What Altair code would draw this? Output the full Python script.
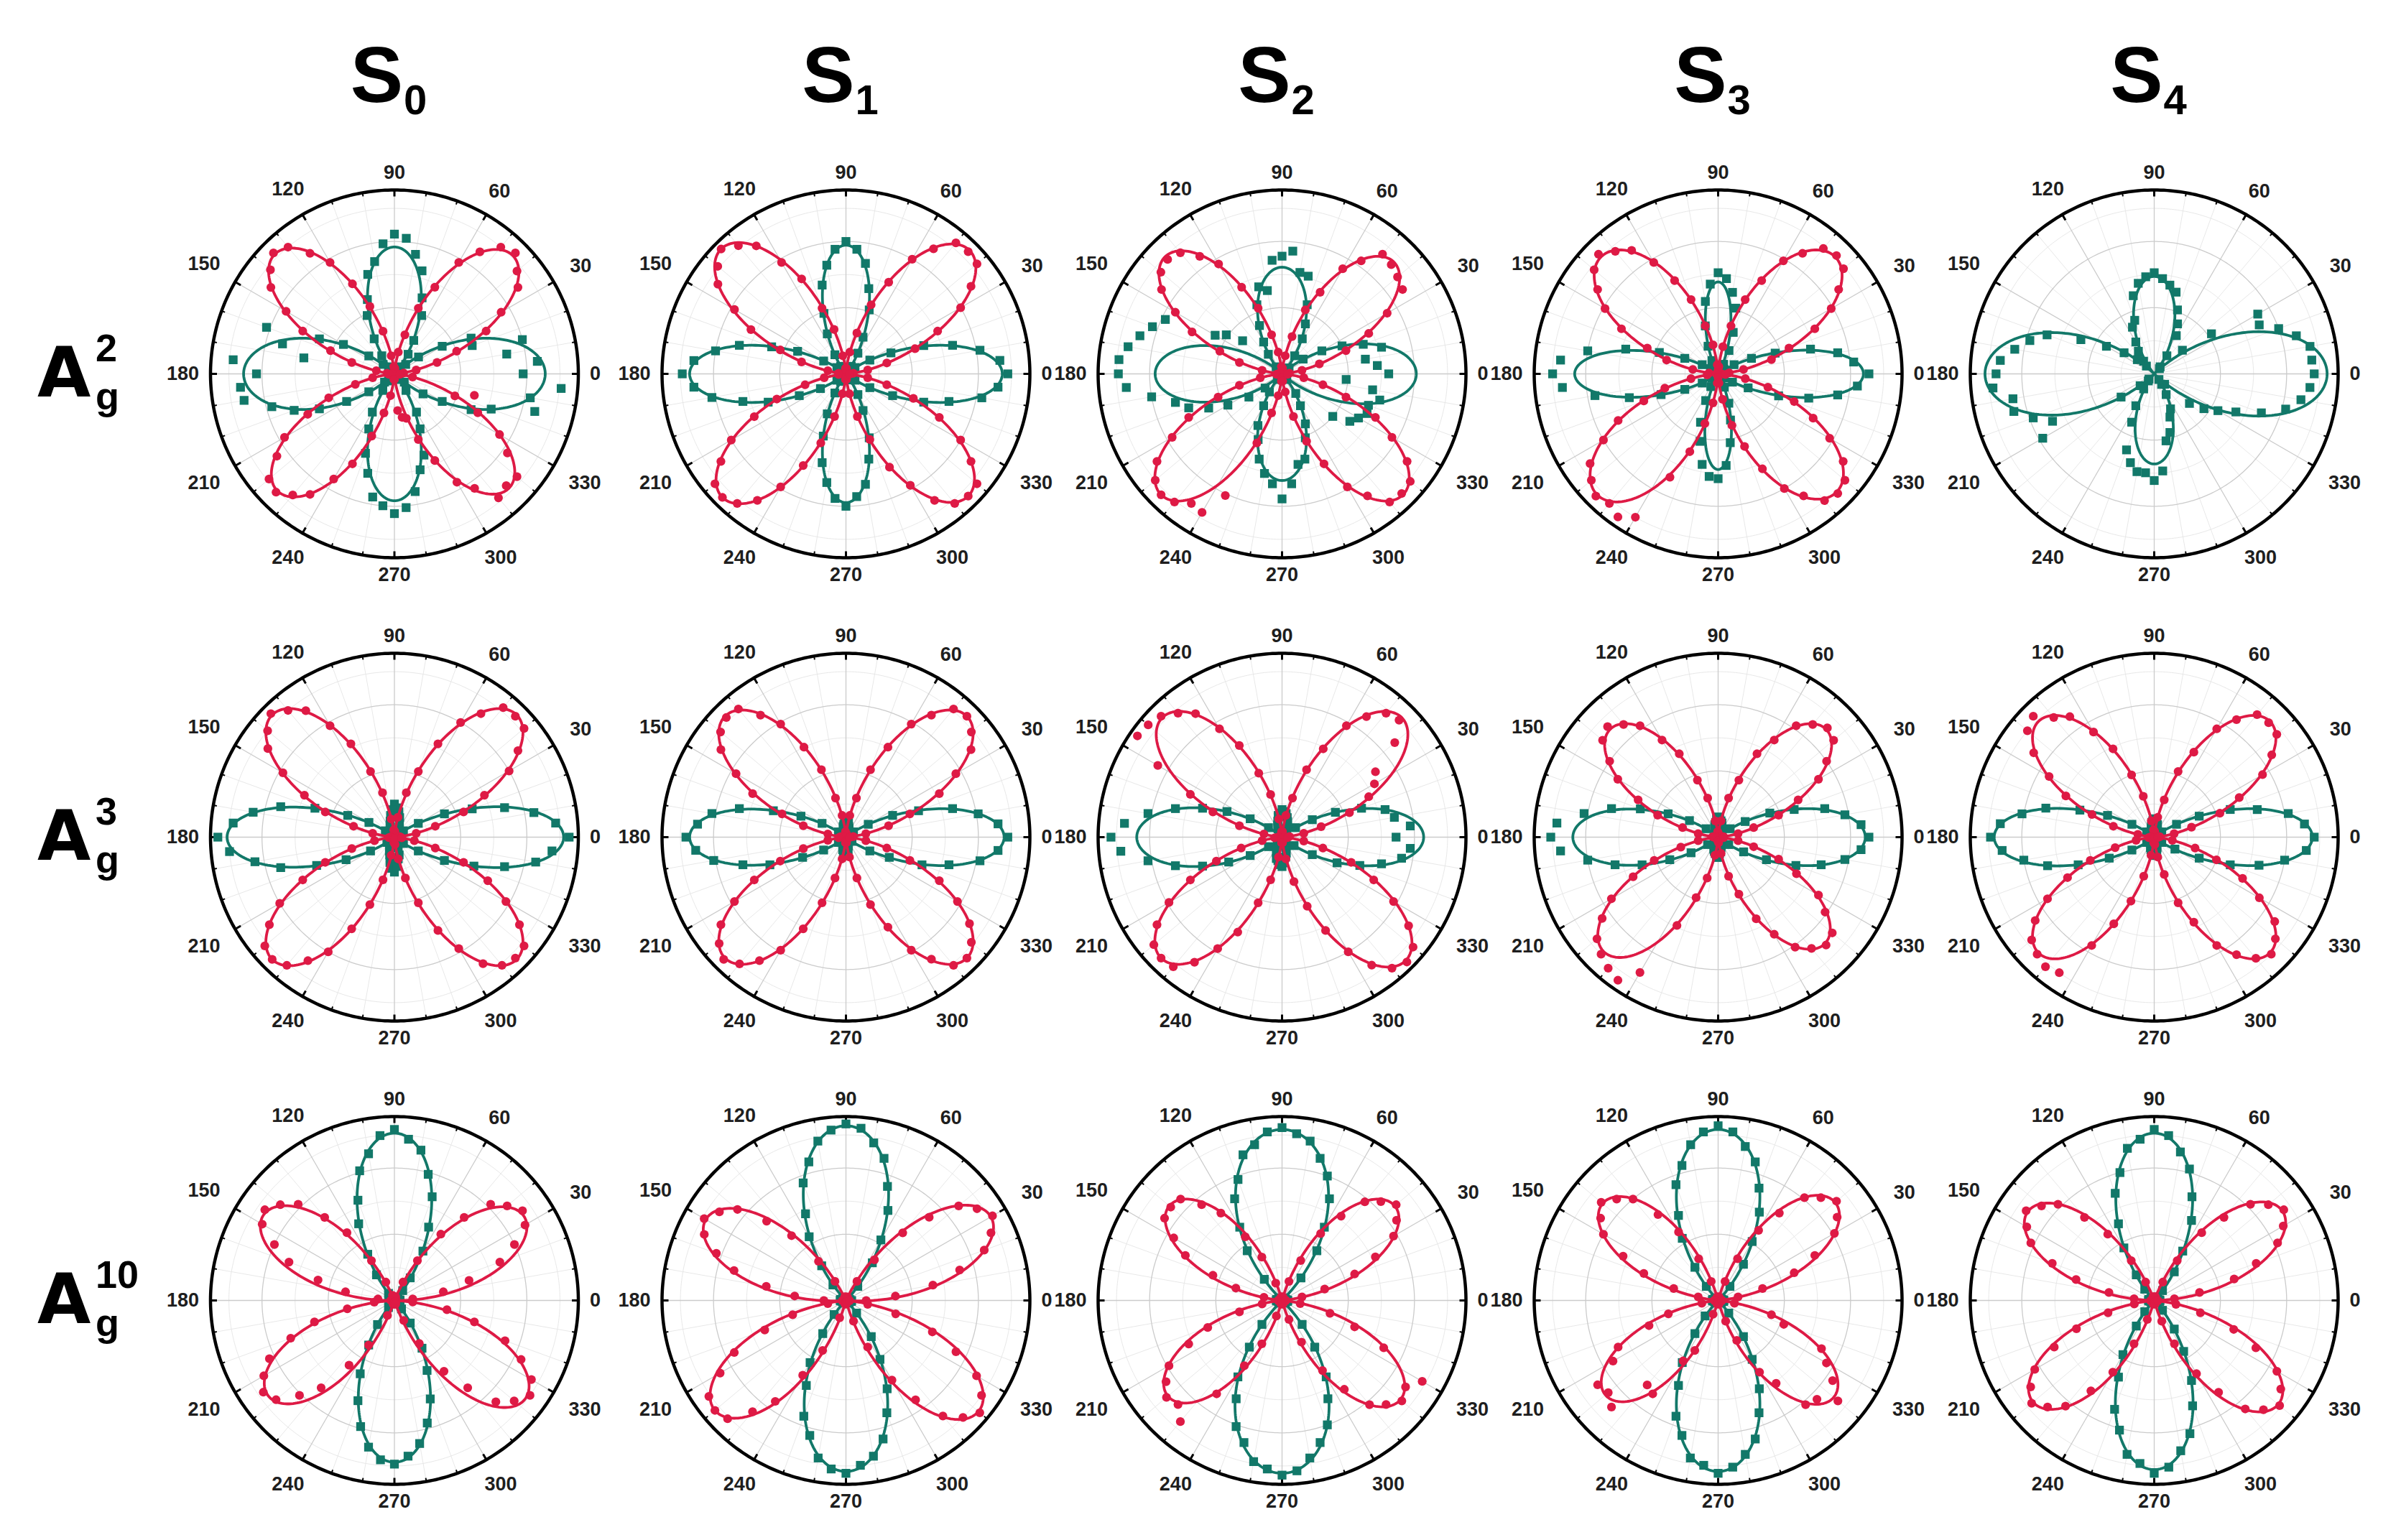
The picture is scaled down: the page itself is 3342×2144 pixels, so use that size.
import numpy as np
import pandas as pd
import altair as alt

# ---------------- labels ----------------
COL_SUBS = ["0", "1", "2", "3", "4"]          # S_0 ... S_4
ROW_SUPS = ["2", "3", "10"]                   # A_g^2, A_g^3, A_g^10
ANGLE_LABELS = [0, 30, 60, 90, 120, 150, 180, 210, 240, 270, 300, 330]
STEP = 5  # measured points every 5 degrees, 0..355

# ---------------- measured points (radius, fraction of outer circle) ----------------
# Row A_g^2
R_A2_S0 = [0.02, 0.05, 0.12, 0.24, 0.36, 0.55, 0.67, 0.82, 0.87, 0.93, 0.90, 0.81, 0.70, 0.52, 0.38, 0.22, 0.12, 0.03,
           0.02, 0.04, 0.10, 0.24, 0.39, 0.54, 0.70, 0.80, 0.90, 0.93, 0.88, 0.82, 0.68, 0.55, 0.37, 0.24, 0.10, 0.04,
           0.01, 0.03, 0.12, 0.22, 0.38, 0.52, 0.69, 0.78, 0.89, 0.91, 0.86, 0.80, 0.66, 0.54, 0.36, 0.22, 0.12, 0.03,
           0.03, 0.20, 0.24, 0.25, 0.38, 0.52, 0.68, 0.76, 0.88, 0.86, 0.87, 0.75, 0.66, 0.50, 0.35, 0.45, 0.10, 0.03]
G_A2_S0 = [0.70, 0.78, 0.62, 0.72, 0.45, 0.46, 0.30, 0.16, 0.08, 0.03,
           0.05, 0.13, 0.21, 0.35, 0.44, 0.58, 0.66, 0.74, 0.76,
           0.71, 0.62, 0.56, 0.43, 0.35, 0.22, 0.12, 0.05, 0.02,
           0.08, 0.17, 0.32, 0.45, 0.74, 0.63, 0.50, 0.88, 0.75,
           0.84, 0.83, 0.69, 0.58, 0.45, 0.30, 0.17, 0.07, 0.02,
           0.05, 0.11, 0.24, 0.33, 0.46, 0.56, 0.68, 0.72, 0.76,
           0.73, 0.65, 0.54, 0.47, 0.33, 0.24, 0.11, 0.04, 0.02,
           0.07, 0.19, 0.30, 0.46, 0.56, 0.79, 0.75, 0.91]
R_A2_S1 = [0.01, 0.04, 0.12, 0.23, 0.40, 0.55, 0.72, 0.83, 0.93, 0.94, 0.93, 0.83, 0.72, 0.55, 0.40, 0.23, 0.12, 0.03,
           0.02, 0.03, 0.10, 0.25, 0.38, 0.57, 0.70, 0.85, 0.91, 0.96, 0.91, 0.85, 0.70, 0.57, 0.38, 0.25, 0.10, 0.04,
           0.01, 0.04, 0.12, 0.23, 0.40, 0.55, 0.72, 0.83, 0.93, 0.95, 0.92, 0.84, 0.71, 0.55, 0.40, 0.24, 0.11, 0.03,
           0.02, 0.03, 0.11, 0.24, 0.38, 0.56, 0.70, 0.84, 0.92, 0.94, 0.93, 0.83, 0.72, 0.56, 0.39, 0.23, 0.12, 0.02]
G_A2_S1 = [0.88, 0.84, 0.74, 0.60, 0.45, 0.27, 0.15, 0.06, 0.02, 0.01,
           0.01, 0.05, 0.13, 0.22, 0.37, 0.48, 0.61, 0.68, 0.72,
           0.68, 0.60, 0.50, 0.35, 0.24, 0.12, 0.05, 0.01, 0.01,
           0.02, 0.06, 0.14, 0.29, 0.43, 0.60, 0.72, 0.83, 0.89,
           0.83, 0.74, 0.58, 0.45, 0.28, 0.16, 0.06, 0.01, 0.01,
           0.01, 0.05, 0.12, 0.24, 0.36, 0.50, 0.60, 0.68, 0.72,
           0.67, 0.61, 0.48, 0.37, 0.22, 0.13, 0.04, 0.01, 0.02,
           0.01, 0.06, 0.15, 0.28, 0.45, 0.58, 0.75, 0.83]
R_A2_S2 = [0.02, 0.04, 0.11, 0.21, 0.37, 0.52, 0.66, 0.80, 0.82, 0.84, 0.85, 0.75, 0.66, 0.49, 0.37, 0.21, 0.10, 0.03,
           0.02, 0.04, 0.12, 0.22, 0.38, 0.52, 0.69, 0.78, 0.86, 0.88, 0.86, 0.80, 0.67, 0.54, 0.36, 0.24, 0.11, 0.02,
           0.01, 0.03, 0.12, 0.24, 0.37, 0.56, 0.69, 0.83, 0.90, 0.93, 0.91, 0.86, 0.87, 0.73, 0.40, 0.22, 0.12, 0.04,
           0.02, 0.04, 0.10, 0.24, 0.39, 0.54, 0.71, 0.81, 0.91, 0.92, 0.91, 0.83, 0.69, 0.56, 0.37, 0.23, 0.12, 0.03]
G_A2_S2 = [0.58, 0.52, 0.46, 0.56, 0.47, 0.36, 0.25, 0.14, 0.05, 0.02,
           0.04, 0.12, 0.22, 0.30, 0.40, 0.55, 0.56, 0.67, 0.64,
           0.62, 0.46, 0.49, 0.40, 0.29, 0.20, 0.13, 0.05, 0.03,
           0.28, 0.37, 0.42, 0.70, 0.75, 0.80, 0.85, 0.89, 0.89,
           0.85, 0.72, 0.60, 0.54, 0.44, 0.34, 0.22, 0.12, 0.03,
           0.04, 0.12, 0.20, 0.31, 0.38, 0.48, 0.55, 0.60, 0.68,
           0.60, 0.50, 0.48, 0.37, 0.30, 0.20, 0.13, 0.04, 0.03,
           0.36, 0.45, 0.48, 0.51, 0.50, 0.55, 0.50, 0.35]
R_A2_S3 = [0.02, 0.06, 0.14, 0.30, 0.41, 0.58, 0.71, 0.80, 0.89, 0.91, 0.89, 0.80, 0.71, 0.56, 0.43, 0.27, 0.15, 0.04,
           0.02, 0.05, 0.16, 0.27, 0.43, 0.56, 0.70, 0.82, 0.87, 0.92, 0.88, 0.80, 0.71, 0.58, 0.41, 0.29, 0.14, 0.05,
           0.01, 0.06, 0.15, 0.30, 0.43, 0.60, 0.72, 0.85, 0.90, 0.94, 0.92, 0.95, 0.90, 0.62, 0.45, 0.28, 0.16, 0.05,
           0.02, 0.05, 0.14, 0.29, 0.42, 0.57, 0.72, 0.81, 0.90, 0.92, 0.90, 0.83, 0.70, 0.57, 0.44, 0.28, 0.15, 0.04]
G_A2_S3 = [0.82, 0.74, 0.66, 0.52, 0.33, 0.20, 0.10, 0.04, 0.02, 0.02,
           0.02, 0.03, 0.06, 0.14, 0.24, 0.37, 0.45, 0.52, 0.55,
           0.49, 0.40, 0.27, 0.16, 0.08, 0.03, 0.02, 0.02, 0.03,
           0.03, 0.05, 0.10, 0.20, 0.34, 0.52, 0.72, 0.86, 0.90,
           0.85, 0.68, 0.50, 0.33, 0.20, 0.10, 0.04, 0.02, 0.02,
           0.02, 0.03, 0.08, 0.16, 0.28, 0.38, 0.50, 0.56, 0.57,
           0.50, 0.38, 0.26, 0.17, 0.08, 0.03, 0.02, 0.02, 0.02,
           0.02, 0.04, 0.09, 0.18, 0.35, 0.51, 0.66, 0.76]
R_A2_S4 = []
G_A2_S4 = [0.87, 0.86, 0.86, 0.80, 0.72, 0.63, 0.65, 0.38, 0.20, 0.04,
           0.05, 0.12, 0.24, 0.30, 0.37, 0.46, 0.49, 0.52, 0.55,
           0.53, 0.50, 0.44, 0.31, 0.28, 0.20, 0.15, 0.09, 0.06,
           0.12, 0.20, 0.30, 0.44, 0.62, 0.70, 0.77, 0.84, 0.86,
           0.88, 0.78, 0.79, 0.70, 0.61, 0.70, 0.22, 0.10, 0.04,
           0.05, 0.10, 0.20, 0.29, 0.44, 0.50, 0.54, 0.54, 0.58,
           0.53, 0.37, 0.33, 0.25, 0.21, 0.13, 0.07, 0.04, 0.08,
           0.25, 0.33, 0.40, 0.49, 0.62, 0.74, 0.81, 0.85]

# Row A_g^3
R_A3_S0 = [0.02, 0.03, 0.12, 0.23, 0.40, 0.54, 0.72, 0.82, 0.92, 0.93, 0.92, 0.82, 0.72, 0.56, 0.38, 0.25, 0.11, 0.03,
           0.01, 0.04, 0.10, 0.25, 0.38, 0.56, 0.70, 0.84, 0.90, 0.95, 0.90, 0.84, 0.70, 0.54, 0.40, 0.23, 0.12, 0.02,
           0.02, 0.03, 0.11, 0.24, 0.40, 0.55, 0.72, 0.83, 0.92, 0.94, 0.91, 0.82, 0.72, 0.55, 0.39, 0.24, 0.10, 0.03,
           0.01, 0.04, 0.12, 0.23, 0.38, 0.56, 0.70, 0.84, 0.91, 0.93, 0.92, 0.83, 0.70, 0.56, 0.40, 0.23, 0.11, 0.04]
G_A3_S0 = [0.95, 0.88, 0.77, 0.62, 0.45, 0.30, 0.15, 0.06, 0.01, 0.01,
           0.01, 0.02, 0.03, 0.06, 0.08, 0.11, 0.14, 0.16, 0.18,
           0.15, 0.12, 0.09, 0.07, 0.04, 0.02, 0.01, 0.01, 0.01,
           0.01, 0.06, 0.16, 0.28, 0.46, 0.64, 0.78, 0.88, 0.96,
           0.90, 0.77, 0.64, 0.45, 0.29, 0.15, 0.05, 0.01, 0.01,
           0.01, 0.02, 0.03, 0.05, 0.08, 0.10, 0.14, 0.17, 0.19,
           0.16, 0.12, 0.10, 0.06, 0.04, 0.02, 0.01, 0.01, 0.01,
           0.01, 0.06, 0.15, 0.30, 0.46, 0.62, 0.78, 0.86]
R_A3_S1 = [0.01, 0.04, 0.11, 0.24, 0.37, 0.56, 0.69, 0.83, 0.89, 0.93, 0.91, 0.81, 0.71, 0.54, 0.39, 0.22, 0.12, 0.02,
           0.02, 0.03, 0.12, 0.22, 0.39, 0.54, 0.71, 0.81, 0.91, 0.92, 0.89, 0.83, 0.69, 0.56, 0.37, 0.24, 0.10, 0.03,
           0.01, 0.04, 0.10, 0.24, 0.38, 0.55, 0.70, 0.83, 0.90, 0.94, 0.90, 0.82, 0.71, 0.55, 0.38, 0.23, 0.12, 0.03,
           0.02, 0.03, 0.11, 0.23, 0.39, 0.54, 0.71, 0.81, 0.91, 0.93, 0.89, 0.82, 0.70, 0.56, 0.37, 0.23, 0.11, 0.02]
G_A3_S1 = [0.88, 0.83, 0.73, 0.60, 0.42, 0.28, 0.14, 0.05, 0.01, 0.01,
           0.01, 0.01, 0.02, 0.03, 0.05, 0.06, 0.08, 0.09, 0.10,
           0.09, 0.07, 0.06, 0.04, 0.03, 0.02, 0.01, 0.01, 0.01,
           0.01, 0.05, 0.15, 0.27, 0.42, 0.60, 0.74, 0.81, 0.87,
           0.82, 0.73, 0.58, 0.44, 0.26, 0.14, 0.05, 0.01, 0.01,
           0.01, 0.02, 0.02, 0.03, 0.05, 0.07, 0.08, 0.10, 0.10,
           0.08, 0.07, 0.05, 0.04, 0.02, 0.02, 0.01, 0.01, 0.01,
           0.01, 0.04, 0.15, 0.26, 0.44, 0.58, 0.74, 0.83]
R_A3_S2 = [0.02, 0.04, 0.12, 0.22, 0.39, 0.52, 0.58, 0.62, 0.80, 0.90, 0.88, 0.80, 0.70, 0.53, 0.39, 0.22, 0.12, 0.03,
           0.01, 0.03, 0.10, 0.24, 0.37, 0.55, 0.68, 0.82, 0.88, 0.93, 0.95, 0.96, 0.78, 0.55, 0.40, 0.24, 0.10, 0.02,
           0.02, 0.04, 0.11, 0.23, 0.38, 0.55, 0.71, 0.83, 0.91, 0.93, 0.92, 0.83, 0.70, 0.57, 0.38, 0.24, 0.11, 0.03,
           0.01, 0.03, 0.12, 0.25, 0.40, 0.56, 0.72, 0.85, 0.93, 0.96, 0.93, 0.84, 0.70, 0.55, 0.40, 0.23, 0.12, 0.03]
G_A3_S2 = [0.62, 0.70, 0.62, 0.58, 0.46, 0.32, 0.19, 0.09, 0.02, 0.01,
           0.02, 0.03, 0.05, 0.07, 0.09, 0.11, 0.13, 0.14, 0.15,
           0.13, 0.12, 0.09, 0.07, 0.05, 0.03, 0.02, 0.01, 0.01,
           0.02, 0.09, 0.20, 0.33, 0.46, 0.60, 0.74, 0.86, 0.93,
           0.88, 0.74, 0.60, 0.46, 0.32, 0.20, 0.09, 0.02, 0.01,
           0.01, 0.03, 0.05, 0.07, 0.09, 0.12, 0.13, 0.15, 0.16,
           0.14, 0.11, 0.09, 0.06, 0.05, 0.03, 0.02, 0.01, 0.01,
           0.02, 0.08, 0.19, 0.33, 0.45, 0.56, 0.66, 0.70]
R_A3_S3 = [0.01, 0.03, 0.11, 0.20, 0.35, 0.48, 0.63, 0.72, 0.82, 0.84, 0.80, 0.74, 0.61, 0.50, 0.33, 0.22, 0.09, 0.02,
           0.02, 0.03, 0.09, 0.22, 0.33, 0.50, 0.61, 0.74, 0.80, 0.85, 0.82, 0.72, 0.63, 0.48, 0.35, 0.20, 0.11, 0.03,
           0.01, 0.02, 0.11, 0.21, 0.37, 0.51, 0.67, 0.77, 0.86, 0.90, 0.93, 0.95, 0.85, 0.53, 0.35, 0.23, 0.10, 0.02,
           0.02, 0.03, 0.09, 0.22, 0.33, 0.49, 0.61, 0.73, 0.79, 0.83, 0.81, 0.71, 0.63, 0.47, 0.35, 0.20, 0.11, 0.03]
G_A3_S3 = [0.82, 0.78, 0.70, 0.60, 0.44, 0.31, 0.17, 0.08, 0.02, 0.01,
           0.01, 0.02, 0.03, 0.05, 0.06, 0.08, 0.09, 0.10, 0.11,
           0.10, 0.08, 0.07, 0.05, 0.03, 0.02, 0.02, 0.01, 0.01,
           0.02, 0.08, 0.18, 0.30, 0.45, 0.60, 0.74, 0.88, 0.91,
           0.86, 0.72, 0.58, 0.44, 0.29, 0.17, 0.07, 0.02, 0.01,
           0.01, 0.02, 0.03, 0.05, 0.07, 0.08, 0.09, 0.11, 0.11,
           0.09, 0.08, 0.06, 0.05, 0.03, 0.02, 0.01, 0.01, 0.01,
           0.02, 0.07, 0.16, 0.29, 0.45, 0.58, 0.70, 0.78]
R_A3_S4 = [0.02, 0.03, 0.11, 0.21, 0.38, 0.51, 0.68, 0.78, 0.87, 0.88, 0.87, 0.78, 0.68, 0.51, 0.38, 0.21, 0.11, 0.03,
           0.01, 0.04, 0.09, 0.23, 0.36, 0.53, 0.66, 0.80, 0.85, 0.93, 0.90, 0.80, 0.66, 0.53, 0.36, 0.23, 0.09, 0.02,
           0.02, 0.03, 0.10, 0.22, 0.37, 0.52, 0.67, 0.79, 0.87, 0.90, 0.92, 0.90, 0.68, 0.52, 0.37, 0.22, 0.10, 0.03,
           0.01, 0.04, 0.11, 0.21, 0.38, 0.51, 0.68, 0.78, 0.86, 0.90, 0.86, 0.80, 0.66, 0.53, 0.36, 0.23, 0.10, 0.02]
G_A3_S4 = [0.87, 0.82, 0.74, 0.58, 0.44, 0.27, 0.14, 0.05, 0.01, 0.01,
           0.01, 0.02, 0.03, 0.04, 0.05, 0.07, 0.08, 0.09, 0.10,
           0.09, 0.08, 0.06, 0.05, 0.03, 0.02, 0.01, 0.01, 0.01,
           0.01, 0.05, 0.14, 0.28, 0.43, 0.61, 0.73, 0.84, 0.89,
           0.83, 0.72, 0.60, 0.44, 0.27, 0.14, 0.05, 0.01, 0.01,
           0.01, 0.02, 0.03, 0.04, 0.06, 0.07, 0.08, 0.09, 0.10,
           0.09, 0.08, 0.06, 0.04, 0.03, 0.02, 0.01, 0.01, 0.01,
           0.01, 0.05, 0.13, 0.27, 0.44, 0.59, 0.72, 0.83]

# Row A_g^10
R_A10_S0 = [0.01, 0.10, 0.27, 0.42, 0.61, 0.72, 0.82, 0.85, 0.80, 0.74, 0.59, 0.44, 0.25, 0.11, 0.02, 0.01, 0.02, 0.01,
            0.01, 0.02, 0.01, 0.02, 0.03, 0.11, 0.25, 0.45, 0.59, 0.74, 0.81, 0.86, 0.83, 0.72, 0.61, 0.43, 0.27, 0.09,
            0.02, 0.11, 0.26, 0.45, 0.60, 0.75, 0.82, 0.87, 0.84, 0.73, 0.62, 0.43, 0.28, 0.09, 0.02, 0.01, 0.02, 0.01,
            0.01, 0.02, 0.01, 0.02, 0.02, 0.12, 0.27, 0.47, 0.62, 0.78, 0.85, 0.90, 0.86, 0.76, 0.64, 0.45, 0.29, 0.10]
G_A10_S0 = [0.03, 0.03, 0.02, 0.02, 0.02, 0.01, 0.01, 0.01, 0.01, 0.02,
            0.07, 0.15, 0.31, 0.44, 0.60, 0.71, 0.83, 0.88, 0.93,
            0.90, 0.81, 0.73, 0.58, 0.46, 0.29, 0.17, 0.05, 0.02,
            0.01, 0.01, 0.01, 0.02, 0.02, 0.02, 0.03, 0.03, 0.03,
            0.03, 0.03, 0.02, 0.02, 0.01, 0.01, 0.01, 0.01, 0.02,
            0.05, 0.16, 0.28, 0.44, 0.58, 0.71, 0.81, 0.87, 0.89,
            0.85, 0.79, 0.69, 0.57, 0.42, 0.30, 0.15, 0.06, 0.02,
            0.01, 0.01, 0.01, 0.02, 0.02, 0.02, 0.03, 0.03]
R_A10_S1 = [0.11, 0.27, 0.48, 0.64, 0.80, 0.87, 0.92, 0.87, 0.80, 0.64, 0.48, 0.27, 0.12, 0.02, 0.01, 0.02, 0.01, 0.01,
            0.01, 0.01, 0.02, 0.01, 0.02, 0.01, 0.12, 0.26, 0.46, 0.61, 0.77, 0.84, 0.89, 0.85, 0.75, 0.63, 0.44, 0.28,
            0.12, 0.02, 0.10, 0.30, 0.47, 0.67, 0.79, 0.91, 0.93, 0.91, 0.79, 0.67, 0.47, 0.30, 0.10, 0.02, 0.01, 0.01,
            0.01, 0.02, 0.01, 0.01, 0.12, 0.28, 0.50, 0.66, 0.82, 0.90, 0.95, 0.90, 0.82, 0.66, 0.50, 0.28, 0.12, 0.02]
G_A10_S1 = [0.03, 0.02, 0.02, 0.02, 0.01, 0.01, 0.01, 0.01, 0.01, 0.02,
            0.10, 0.25, 0.38, 0.54, 0.66, 0.80, 0.87, 0.94, 0.96,
            0.93, 0.88, 0.78, 0.68, 0.52, 0.40, 0.23, 0.11, 0.02,
            0.01, 0.01, 0.01, 0.02, 0.02, 0.02, 0.03, 0.03, 0.03,
            0.03, 0.02, 0.02, 0.02, 0.01, 0.01, 0.01, 0.01, 0.02,
            0.10, 0.22, 0.39, 0.51, 0.67, 0.76, 0.87, 0.92, 0.94,
            0.90, 0.86, 0.78, 0.65, 0.53, 0.37, 0.24, 0.09, 0.02,
            0.01, 0.01, 0.01, 0.02, 0.02, 0.02, 0.03, 0.03]
R_A10_S2 = [0.01, 0.02, 0.11, 0.24, 0.42, 0.56, 0.70, 0.76, 0.81, 0.76, 0.70, 0.56, 0.42, 0.24, 0.11, 0.02, 0.01, 0.01,
            0.01, 0.02, 0.01, 0.02, 0.10, 0.26, 0.40, 0.58, 0.68, 0.78, 0.79, 0.78, 0.68, 0.58, 0.40, 0.26, 0.10, 0.02,
            0.01, 0.02, 0.11, 0.24, 0.43, 0.56, 0.71, 0.77, 0.82, 0.80, 0.86, 0.62, 0.41, 0.26, 0.09, 0.02, 0.01, 0.01,
            0.01, 0.02, 0.01, 0.02, 0.11, 0.25, 0.44, 0.59, 0.74, 0.80, 0.85, 0.82, 0.88, 0.61, 0.42, 0.27, 0.10, 0.02]
G_A10_S2 = [0.03, 0.03, 0.02, 0.02, 0.02, 0.01, 0.01, 0.01, 0.01, 0.02,
            0.16, 0.33, 0.46, 0.61, 0.72, 0.80, 0.88, 0.91, 0.94,
            0.92, 0.86, 0.82, 0.70, 0.61, 0.46, 0.33, 0.15, 0.02,
            0.01, 0.01, 0.01, 0.02, 0.02, 0.02, 0.03, 0.03, 0.03,
            0.03, 0.02, 0.02, 0.02, 0.01, 0.01, 0.01, 0.01, 0.02,
            0.17, 0.31, 0.48, 0.59, 0.73, 0.80, 0.89, 0.92, 0.95,
            0.93, 0.87, 0.80, 0.72, 0.59, 0.48, 0.31, 0.17, 0.02,
            0.01, 0.01, 0.01, 0.02, 0.02, 0.02, 0.03, 0.03]
R_A10_S3 = [0.01, 0.02, 0.11, 0.25, 0.44, 0.58, 0.73, 0.79, 0.84, 0.79, 0.73, 0.58, 0.44, 0.25, 0.11, 0.02, 0.01, 0.01,
            0.01, 0.02, 0.01, 0.02, 0.11, 0.25, 0.43, 0.57, 0.72, 0.78, 0.83, 0.78, 0.72, 0.57, 0.43, 0.25, 0.11, 0.02,
            0.01, 0.02, 0.09, 0.28, 0.40, 0.60, 0.66, 0.80, 0.78, 0.82, 0.60, 0.62, 0.38, 0.30, 0.08, 0.02, 0.01, 0.01,
            0.01, 0.02, 0.01, 0.02, 0.12, 0.24, 0.45, 0.55, 0.74, 0.76, 0.85, 0.76, 0.68, 0.62, 0.38, 0.30, 0.09, 0.02]
G_A10_S3 = [0.03, 0.03, 0.02, 0.02, 0.02, 0.01, 0.01, 0.01, 0.01, 0.02,
            0.10, 0.24, 0.37, 0.53, 0.65, 0.78, 0.85, 0.92, 0.95,
            0.92, 0.86, 0.76, 0.67, 0.51, 0.39, 0.22, 0.10, 0.02,
            0.01, 0.01, 0.01, 0.02, 0.02, 0.02, 0.03, 0.03, 0.03,
            0.03, 0.02, 0.02, 0.02, 0.01, 0.01, 0.01, 0.01, 0.02,
            0.11, 0.22, 0.39, 0.51, 0.67, 0.76, 0.87, 0.90, 0.94,
            0.91, 0.85, 0.78, 0.65, 0.53, 0.37, 0.24, 0.09, 0.02,
            0.01, 0.01, 0.01, 0.02, 0.02, 0.02, 0.03, 0.03]
R_A10_S4 = [0.01, 0.11, 0.25, 0.45, 0.59, 0.74, 0.81, 0.86, 0.81, 0.74, 0.59, 0.45, 0.25, 0.11, 0.02, 0.01, 0.02, 0.01,
            0.01, 0.02, 0.01, 0.02, 0.02, 0.11, 0.25, 0.44, 0.59, 0.74, 0.80, 0.85, 0.80, 0.74, 0.59, 0.44, 0.25, 0.11,
            0.01, 0.02, 0.11, 0.26, 0.45, 0.60, 0.75, 0.82, 0.87, 0.82, 0.75, 0.60, 0.45, 0.26, 0.11, 0.02, 0.01, 0.01,
            0.01, 0.02, 0.01, 0.02, 0.12, 0.26, 0.46, 0.61, 0.77, 0.84, 0.89, 0.84, 0.77, 0.61, 0.46, 0.26, 0.12, 0.02]
G_A10_S4 = [0.03, 0.03, 0.02, 0.02, 0.02, 0.01, 0.01, 0.01, 0.01, 0.02,
            0.07, 0.19, 0.31, 0.48, 0.60, 0.74, 0.82, 0.90, 0.93,
            0.88, 0.84, 0.72, 0.62, 0.46, 0.33, 0.17, 0.08, 0.02,
            0.01, 0.01, 0.01, 0.02, 0.02, 0.02, 0.03, 0.03, 0.03,
            0.03, 0.02, 0.02, 0.02, 0.01, 0.01, 0.01, 0.01, 0.02,
            0.08, 0.17, 0.34, 0.46, 0.63, 0.73, 0.85, 0.89, 0.94,
            0.91, 0.83, 0.75, 0.61, 0.48, 0.32, 0.19, 0.07, 0.02,
            0.01, 0.01, 0.01, 0.02, 0.02, 0.02, 0.03, 0.03]

POINTS = [
    [(R_A2_S0, G_A2_S0), (R_A2_S1, G_A2_S1), (R_A2_S2, G_A2_S2), (R_A2_S3, G_A2_S3), (R_A2_S4, G_A2_S4)],
    [(R_A3_S0, G_A3_S0), (R_A3_S1, G_A3_S1), (R_A3_S2, G_A3_S2), (R_A3_S3, G_A3_S3), (R_A3_S4, G_A3_S4)],
    [(R_A10_S0, G_A10_S0), (R_A10_S1, G_A10_S1), (R_A10_S2, G_A10_S2), (R_A10_S3, G_A10_S3), (R_A10_S4, G_A10_S4)],
]

# ---------------- fit curves: lobe directions, peak radii, sharpness ----------------
RED_ANG = [
    [[45, 135, 225, 315]] * 5,
    [[45, 135, 225, 315]] * 5,
    [[33, 147, 217, 323], [30, 150, 220, 320], [40, 140, 220, 320], [40, 140, 220, 320], [35, 145, 220, 320]],
]
RED_AMP = [
    [[0.91, 0.92, 0.90, 0.88], [0.95, 0.96, 0.95, 0.94], [0.86, 0.90, 0.93, 0.93], [0.90, 0.90, 0.93, 0.91], []],
    [[0.94, 0.94, 0.94, 0.94], [0.93, 0.93, 0.93, 0.93], [0.92, 0.92, 0.93, 0.95], [0.83, 0.83, 0.88, 0.82], [0.89, 0.89, 0.89, 0.89]],
    [[0.84, 0.85, 0.86, 0.89], [0.91, 0.88, 0.93, 0.94], [0.80, 0.80, 0.81, 0.84], [0.83, 0.82, 0.80, 0.82], [0.85, 0.84, 0.86, 0.88]],
]
RED_POW = [[2.0, 2.0, 2.0, 1.7, 2.0], [2.0] * 5, [1.2] * 5]
RED_SPAN = [45, 45, 35]
GRN_ANG = [0, 90, 180, 270]
GRN_AMP = [
    [[0.82, 0.69, 0.82, 0.69], [0.85, 0.70, 0.85, 0.70], [0.73, 0.58, 0.69, 0.58], [0.79, 0.50, 0.78, 0.52], [0.94, 0.53, 0.92, 0.49]],
    [[0.92, 0.12, 0.91, 0.12], [0.86, 0.08, 0.85, 0.08], [0.77, 0.10, 0.79, 0.10], [0.80, 0.08, 0.79, 0.08], [0.86, 0.08, 0.87, 0.08]],
    [[0.03, 0.91, 0.03, 0.88], [0.03, 0.95, 0.03, 0.93], [0.03, 0.93, 0.03, 0.94], [0.03, 0.93, 0.03, 0.93], [0.03, 0.91, 0.03, 0.92]],
]
GRN_POW = [  # [horizontal lobes, vertical lobes]
    [[1.4, 1.8], [2.5, 2.5], [1.6, 1.5], [3.2, 4.5], [1.3, 1.8]],
    [[2.6, 3.0], [2.6, 3.0], [2.0, 3.0], [2.2, 3.0], [2.6, 3.0]],
    [[2.0, 1.6], [2.0, 1.3], [2.0, 1.0], [2.0, 1.3], [2.0, 1.5]],
]
GRN_SPAN = 45

# ---------------- style / layout ----------------
RED = "#DE1A45"
GREEN = "#127869"
FONT = "Liberation Sans, Arial, sans-serif"
TITLE_FONT = "Liberation Sans Narrow, Liberation Sans, Arial, sans-serif"
COL_W = [650, 607, 607, 607, 607]   # panel widths (px)
H = 645                             # panel height (px)
LW, HH = 216, 190                   # row-label column width, header height
RPX = 256                           # outer circle radius in px
YD = H / 2 / RPX
RINGS_MAJOR = [0.36, 0.72]
RINGS_MINOR = [0.18, 0.54, 0.90]


def lobe_curve(angles, amps, pows, span):
    th = np.arange(0, 360.5, 0.5)
    r = np.zeros_like(th)
    k = 90.0 / span
    for a, A, m in zip(angles, amps, pows):
        d = (th - a + 180.0) % 360.0 - 180.0
        c = np.clip(np.cos(np.radians(k * d)), 0, None)
        r = r + np.where(np.abs(d) < span, A * c ** m, 0.0)
    t = np.radians(th)
    return pd.DataFrame({"i": np.arange(len(th)), "x": r * np.cos(t), "y": r * np.sin(t)})


def point_df(vals):
    th = np.radians(np.arange(len(vals)) * STEP)
    v = np.array(vals, dtype=float)
    return pd.DataFrame({"x": v * np.cos(th), "y": v * np.sin(th)})


def ring_df(radii):
    th = np.radians(np.arange(0, 361, 1.0))
    rows = []
    for g, rr in enumerate(radii):
        rows.append(pd.DataFrame({"g": g, "i": np.arange(len(th)), "x": rr * np.cos(th), "y": rr * np.sin(th)}))
    return pd.concat(rows, ignore_index=True)


def spoke_df(angs, r0, r1):
    t = np.radians(np.array(angs, dtype=float))
    return pd.DataFrame({"x": r0 * np.cos(t), "y": r0 * np.sin(t), "x2": r1 * np.cos(t), "y2": r1 * np.sin(t)})


minor_angs = [a for a in range(0, 360, 10) if a % 30 != 0]
major_angs = list(range(0, 360, 30))

rings_minor_df = ring_df(RINGS_MINOR)
rings_major_df = ring_df(RINGS_MAJOR)
outer_df = ring_df([1.0])
spk_minor_df = spoke_df(minor_angs, 0.0, 1.0)
spk_major_df = spoke_df(major_angs, 0.0, 1.0)
tck_major_df = spoke_df(major_angs, 1.0, 1.0 - 9.0 / RPX)
tck_minor_df = spoke_df(minor_angs, 1.0, 1.0 - 5.0 / RPX)

# angle labels placed just outside the circle (pushed out by their half extent)
lab_t = np.radians(np.array(ANGLE_LABELS, dtype=float))
lab_txt = [str(a) for a in ANGLE_LABELS]
lab_w = np.array([len(s) * 15.0 for s in lab_txt])
push = (lab_w / 2.0) * np.abs(np.cos(lab_t)) + 8.0 * np.abs(np.sin(lab_t)) \
    + 14.0 * np.abs(np.cos(lab_t)) * np.abs(np.sin(2 * lab_t))
lab_r = (RPX + 16.0 + push) / RPX
labels_df = pd.DataFrame({"t": lab_txt, "x": lab_r * np.cos(lab_t), "y": lab_r * np.sin(lab_t)})

EY = alt.Y("y:Q", scale=alt.Scale(domain=[-YD, YD], nice=False, zero=False), axis=None)


def grid_layers(EX):
    L = []
    L.append(alt.Chart(spk_minor_df).mark_rule(color="#e8e8e8", strokeWidth=1).encode(EX, EY, x2="x2:Q", y2="y2:Q"))
    L.append(alt.Chart(rings_minor_df).mark_line(color="#e8e8e8", strokeWidth=1).encode(EX, EY, detail="g:N", order=alt.Order("i:Q")))
    L.append(alt.Chart(spk_major_df).mark_rule(color="#cbcbcb", strokeWidth=1.3).encode(EX, EY, x2="x2:Q", y2="y2:Q"))
    L.append(alt.Chart(rings_major_df).mark_line(color="#cbcbcb", strokeWidth=1.3).encode(EX, EY, detail="g:N", order=alt.Order("i:Q")))
    L.append(alt.Chart(outer_df).mark_line(color="black", strokeWidth=4.5).encode(EX, EY, detail="g:N", order=alt.Order("i:Q")))
    L.append(alt.Chart(tck_major_df).mark_rule(color="black", strokeWidth=3).encode(EX, EY, x2="x2:Q", y2="y2:Q"))
    L.append(alt.Chart(tck_minor_df).mark_rule(color="black", strokeWidth=2).encode(EX, EY, x2="x2:Q", y2="y2:Q"))
    L.append(alt.Chart(labels_df).mark_text(font=FONT, fontSize=27, fontWeight="bold", color="#1e1e1e",
                                            align="center", baseline="middle").encode(EX, EY, text="t:N"))
    return L


def panel(ri, ci):
    xd = COL_W[ci] / 2 / RPX
    EX = alt.X("x:Q", scale=alt.Scale(domain=[-xd, xd], nice=False, zero=False), axis=None)
    layers = grid_layers(EX)
    rpts, gpts = POINTS[ri][ci]
    gp = GRN_POW[ri][ci]
    gcurve = lobe_curve(GRN_ANG, GRN_AMP[ri][ci], [gp[0], gp[1], gp[0], gp[1]], GRN_SPAN)
    layers.append(alt.Chart(point_df(gpts)).mark_point(shape="square", filled=True, size=150, opacity=1,
                                                       color=GREEN, strokeWidth=0).encode(EX, EY))
    layers.append(alt.Chart(gcurve).mark_line(color=GREEN, strokeWidth=3.8).encode(EX, EY, order=alt.Order("i:Q")))
    if RED_AMP[ri][ci]:
        n = len(RED_AMP[ri][ci])
        rcurve = lobe_curve(RED_ANG[ri][ci], RED_AMP[ri][ci], [RED_POW[ri][ci]] * n, RED_SPAN[ri])
        layers.append(alt.Chart(rcurve).mark_line(color=RED, strokeWidth=3.8).encode(EX, EY, order=alt.Order("i:Q")))
    if rpts:
        layers.append(alt.Chart(point_df(rpts)).mark_point(shape="circle", filled=True, size=150, opacity=1,
                                                           color=RED, strokeWidth=0).encode(EX, EY))
    return alt.layer(*layers).properties(width=COL_W[ci], height=H)


def row_label(ri):
    d = pd.DataFrame({"a": ["A"], "sup": [ROW_SUPS[ri]], "sub": ["g"]})
    base = alt.Chart(d)
    a = base.mark_text(font="DejaVu Sans, Liberation Sans, sans-serif", fontSize=96, fontWeight="bold",
                       align="left", baseline="alphabetic", color="black").encode(
        x=alt.value(44), y=alt.value(354), text="a:N")
    sup = base.mark_text(font=FONT, fontSize=54, fontWeight="bold", align="left", baseline="alphabetic",
                         color="black").encode(x=alt.value(125), y=alt.value(305), text="sup:N")
    sub = base.mark_text(font=FONT, fontSize=54, fontWeight="bold", align="left", baseline="alphabetic",
                         color="black").encode(x=alt.value(125), y=alt.value(372), text="sub:N")
    return alt.layer(a, sup, sub).properties(width=LW, height=H)


def col_title(ci):
    d = pd.DataFrame({"s": ["S"], "sub": [COL_SUBS[ci]]})
    base = alt.Chart(d)
    w = COL_W[ci]
    s = base.mark_text(font=TITLE_FONT, fontSize=110, fontWeight="bold", align="right", baseline="alphabetic",
                       color="black").encode(x=alt.value(w / 2 + 12), y=alt.value(134), text="s:N")
    sub = base.mark_text(font=TITLE_FONT, fontSize=58, fontWeight="bold", align="left", baseline="alphabetic",
                         color="black").encode(x=alt.value(w / 2 + 13), y=alt.value(151), text="sub:N")
    return alt.layer(s, sub).properties(width=w, height=HH)


corner = alt.Chart(pd.DataFrame({"t": [""]})).mark_text().encode(text="t:N").properties(width=LW, height=HH)

cells = [corner] + [col_title(ci) for ci in range(5)]
for ri in range(3):
    cells.append(row_label(ri))
    cells.extend(panel(ri, ci) for ci in range(5))

chart = alt.concat(*cells, columns=6, spacing=0, bounds="flush", align="each").properties(
    padding=0, background="white").configure_view(stroke="transparent", strokeWidth=0)

chart.save("out.html", embed_options={"renderer": "svg", "actions": False})
